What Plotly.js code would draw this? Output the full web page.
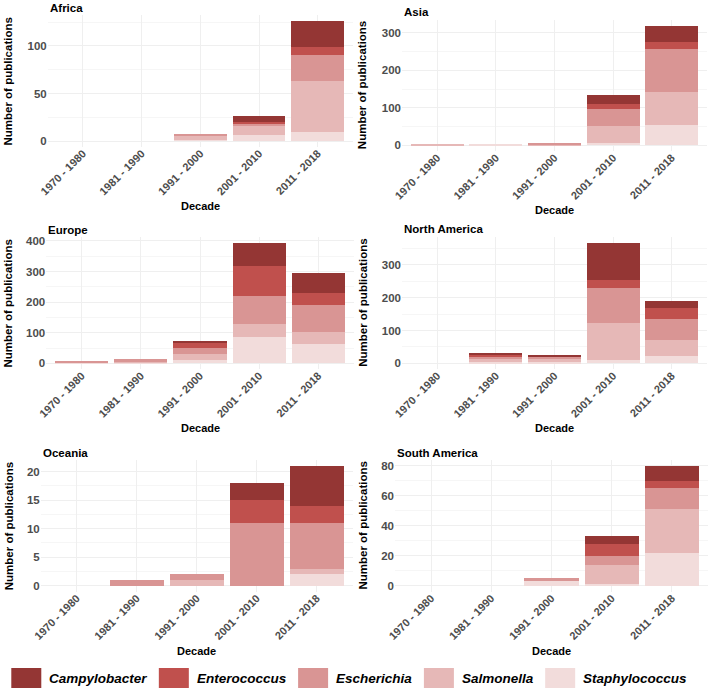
<!DOCTYPE html>
<html>
<head>
<meta charset="utf-8">
<script src="https://cdn.plot.ly/plotly-3.0.1.min.js"></script>
<style>
  html, body { margin: 0; padding: 0; background: white; }
  #chart { width: 708px; height: 689px; }
</style>
</head>
<body>
<div id="chart"></div>
<script>
// publications per decade, stacked by genus

const decades = ['1970 - 1980', '1981 - 1990', '1991 - 2000', '2001 - 2010', '2011 - 2018'];

// bottom to top of each stack
const species = ['Staphylococcus', 'Salmonella', 'Escherichia', 'Enterococcus', 'Campylobacter'];
const speciesColors = ['#F2DCDB', '#E6B8B7', '#D99594', '#C0504D', '#943634'];

// one row per species (same order as above), one value per decade
const africa = [
    [0, 0, 1, 6, 9],
    [0, 0, 4, 10, 54],
    [0, 0, 2, 2, 28],
    [0, 0, 0, 2, 8],
    [0, 0, 0, 6, 27]
];
const asia = [
    [0, 2, 0, 7, 55],
    [4, 0, 2, 44, 87],
    [0, 0, 3, 47, 114],
    [0, 0, 0, 12, 19],
    [0, 0, 0, 23, 44]
];
const europe = [
    [1, 2, 10, 87, 63],
    [2, 3, 20, 42, 39],
    [4, 9, 21, 91, 87],
    [0, 0, 16, 97, 41],
    [0, 0, 6, 76, 65]
];
const northAmerica = [
    [0, 5, 5, 10, 23],
    [0, 10, 8, 112, 48],
    [0, 5, 7, 109, 64],
    [0, 7, 2, 23, 34],
    [0, 3, 1, 113, 21]
];
const oceania = [
    [0, 0, 0, 0, 2],
    [0, 0, 1, 0, 1],
    [0, 1, 1, 11, 8],
    [0, 0, 0, 4, 3],
    [0, 0, 0, 3, 7]
];
const southAmerica = [
    [0, 0, 3, 1, 22],
    [0, 0, 0, 13, 29],
    [0, 0, 2, 6, 14],
    [0, 0, 0, 8, 5],
    [0, 0, 0, 5, 10]
];

const W = 708, H = 689;
const FONT = '"Liberation Sans", Arial, sans-serif';
const GREY = '#4D4D4D';

// panel boxes in pixels: [left, right, top, bottom]
const panels = [
    { name: 'Africa', counts: africa, box: [47.75, 353, 15.3, 147], dtick: 50, titleX: 8.4 },
    { name: 'Asia', counts: asia, box: [402, 707, 19.6, 151.3], dtick: 100, titleX: 362.7 },
    { name: 'Europe', counts: europe, box: [46.2, 353.8, 237.1, 369.3], dtick: 100, titleX: 8.4 },
    { name: 'North America', counts: northAmerica, box: [402, 707, 237, 369.3], dtick: 100, titleX: 362.7 },
    { name: 'Oceania', counts: oceania, box: [40.7, 352.7, 460, 591.7], dtick: 5, titleX: 8.4 },
    { name: 'South America', counts: southAmerica, box: [395, 708, 460, 591.7], dtick: 20, titleX: 362.7 }
];

const px = p => p / W;
const py = p => 1 - p / H;

const traces = [];
const layout = {
    width: W,
    height: H,
    margin: { l: 0, r: 0, t: 0, b: 0 },
    paper_bgcolor: 'white',
    plot_bgcolor: 'white',
    barmode: 'stack',
    showlegend: false,
    font: { family: FONT },
    annotations: [],
    shapes: []
};

panels.forEach((p, i) => {
    const n = i === 0 ? '' : String(i + 1);
    const [left, right, top, bottom] = p.box;

    species.forEach((s, k) => {
        traces.push({
            type: 'bar',
            name: s,
            x: decades,
            y: p.counts[k],
            width: 0.9,
            xaxis: 'x' + n,
            yaxis: 'y' + n,
            marker: { color: speciesColors[k], line: { width: 0 } },
            hovertemplate: '%{x}<br>' + s + ': %{y}<extra>' + p.name + '</extra>'
        });
    });

    const totals = decades.map((d, j) => p.counts.reduce((acc, row) => acc + row[j], 0));
    const maxTotal = Math.max(...totals);

    layout['xaxis' + n] = {
        domain: [px(left), px(right)],
        anchor: 'y' + n,
        type: 'category',
        categoryorder: 'array',
        categoryarray: decades,
        range: [-0.6, decades.length - 0.4],
        tickangle: -45,
        tickfont: { size: 11, weight: 'bold', color: GREY },
        ticklabelstandoff: -3,
        showgrid: true,
        gridcolor: '#EFEFEF',
        gridwidth: 1,
        ticks: '',
        showline: false,
        zeroline: false,
        fixedrange: true
    };

    layout['yaxis' + n] = {
        domain: [py(bottom), py(top)],
        anchor: 'x' + n,
        range: [-0.05 * maxTotal, 1.05 * maxTotal],
        dtick: p.dtick,
        tick0: 0,
        tickfont: { size: 11.5, weight: 'bold', color: GREY },
        showgrid: true,
        gridcolor: '#EFEFEF',
        gridwidth: 1,
        minor: { dtick: p.dtick / 2, tick0: 0, showgrid: true, gridcolor: '#F6F6F6', gridwidth: 1 },
        ticks: '',
        showline: false,
        zeroline: false,
        fixedrange: true
    };

    // panel title
    layout.annotations.push({
        text: p.name,
        xref: 'paper', yref: 'paper',
        x: px(left), y: py(top - 7.5),
        xanchor: 'left', yanchor: 'middle',
        showarrow: false,
        font: { size: 11.5, weight: 'bold', color: 'black' }
    });

    // y axis title
    layout.annotations.push({
        text: 'Number of publications',
        xref: 'paper', yref: 'paper',
        x: px(p.titleX), y: py((top + bottom) / 2),
        xanchor: 'center', yanchor: 'middle',
        textangle: -90,
        showarrow: false,
        font: { size: 11.5, weight: 'bold', color: 'black' }
    });

    // x axis title
    layout.annotations.push({
        text: 'Decade',
        xref: 'paper', yref: 'paper',
        x: px((left + right) / 2), y: py(bottom + 59),
        xanchor: 'center', yanchor: 'middle',
        showarrow: false,
        font: { size: 11, weight: 'bold', color: 'black' }
    });
});

// legend along the bottom, built from the species list
const ctx = document.createElement('canvas').getContext('2d');
ctx.font = 'italic bold 13.5px ' + FONT;
const legendOrder = species.map((s, k) => k).reverse();
const keyW = 30, keyH = 20, textGap = 6, itemGap = 14;
const widths = legendOrder.map(k => ctx.measureText(species[k]).width);
const totalW = widths.reduce((a, w) => a + keyW + textGap + w, 0) + itemGap * (legendOrder.length - 1);
let cursor = 348 - totalW / 2;
const legendMid = 678;

legendOrder.forEach((k, idx) => {
    layout.shapes.push({
        type: 'rect',
        xref: 'paper', yref: 'paper',
        x0: px(cursor), x1: px(cursor + keyW),
        y0: py(legendMid + keyH / 2), y1: py(legendMid - keyH / 2),
        fillcolor: speciesColors[k],
        line: { width: 0 }
    });
    layout.annotations.push({
        text: species[k],
        xref: 'paper', yref: 'paper',
        x: px(cursor + keyW + textGap), y: py(legendMid),
        xanchor: 'left', yanchor: 'middle',
        showarrow: false,
        font: { size: 13.5, weight: 'bold', style: 'italic', color: 'black' }
    });
    cursor += keyW + textGap + widths[idx] + itemGap;
});

const config = {
    responsive: false,
    displayModeBar: false
};

Plotly.newPlot('chart', traces, layout, config);
</script>
</body>
</html>
